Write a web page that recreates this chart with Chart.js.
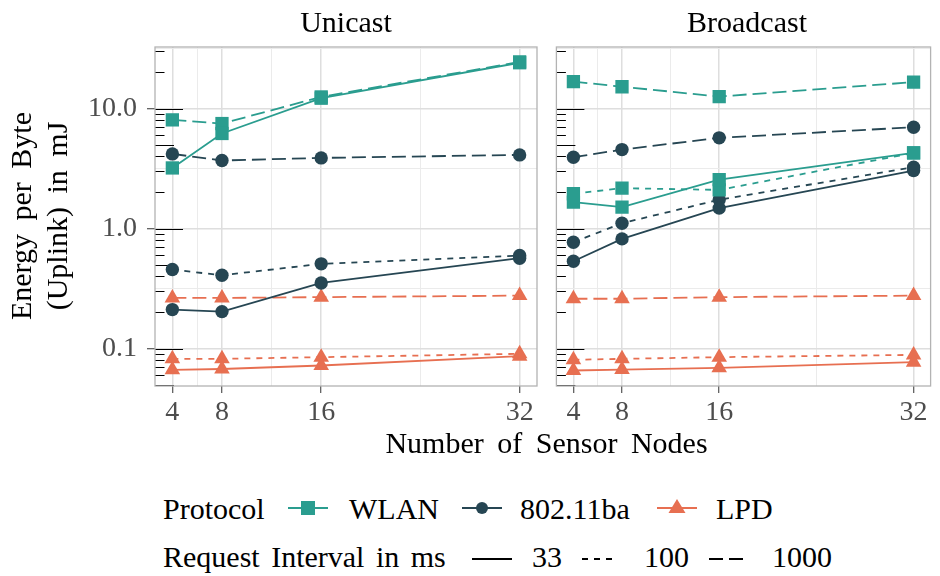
<!DOCTYPE html>
<html><head><meta charset="utf-8">
<script src="https://cdn.jsdelivr.net/npm/chart.js@4.4.1/dist/chart.umd.min.js"></script>
<style>
html,body{margin:0;padding:0;background:#fff;}
#wrap{position:relative;width:940px;height:576px;overflow:hidden;font-family:'Liberation Serif','Times New Roman',serif;color:#000;background:#fff;}
canvas{position:absolute;top:0;}
.t{position:absolute;white-space:nowrap;font-size:30px;line-height:30px;}
.ws{word-spacing:6px;}
.key{position:absolute;overflow:visible;}
</style></head><body>
<div id="wrap">
<canvas id="c1" width="547" height="440" style="left:0;width:547px;height:440px"></canvas>
<canvas id="c2" width="393" height="440" style="left:547px;width:393px;height:440px"></canvas>
<div class="t" style="left:155px;width:382px;text-align:center;top:7px">Unicast</div>
<div class="t" style="left:556px;width:382px;text-align:center;top:7px">Broadcast</div>
<div class="t ws" style="left:-161px;top:180px;width:400px;height:72px;line-height:36px;text-align:center;transform:rotate(-90deg);">Energy per Byte<br>(Uplink) in mJ</div>
<div class="t ws" style="left:155px;width:783px;text-align:center;top:428px">Number of Sensor Nodes</div>
<div id="legend"></div>
</div>
<script>
// ---------- data ----------
const nodes = [4, 8, 16, 32];
const xTickValues = [4, 8, 16, 32];
const xTickLabels = ['4', '8', '16', '32'];
const xMinorGrid = [6, 12, 24];
const yTickValues = [0.1, 1, 10];
const yTickLabels = ['0.1', '1.0', '10.0'];
const yMinorGrid = [0.0316, 0.316, 3.16, 31.6];
const panels = ['Unicast', 'Broadcast'];
const protocols = ['WLAN', '802.11ba', 'LPD'];
const intervals = ['33', '100', '1000'];

// Unicast
const uniWlan33   = [3.2, 6.2, 12.2, 24.1];
const uniWlan1000 = [8.05, 7.5, 12.5, 24.5];
const uniBa33     = [0.211, 0.203, 0.352, 0.566];
const uniBa100    = [0.455, 0.408, 0.508, 0.596];
const uniBa1000   = [4.19, 3.69, 3.88, 4.11];
const uniLpd33    = [0.0664, 0.0675, 0.0722, 0.0863];
const uniLpd100   = [0.082, 0.082, 0.0847, 0.0903];
const uniLpd1000  = [0.264, 0.264, 0.268, 0.276];
// Broadcast
const bcWlan33    = [1.66, 1.51, 2.56, 4.27];
const bcWlan100   = [1.95, 2.17, 2.1, 4.27];
const bcWlan1000  = [16.8, 15.2, 12.6, 16.6];
const bcBa33      = [0.534, 0.82, 1.48, 3.04];
const bcBa100     = [0.769, 1.107, 1.74, 3.24];
const bcBa1000    = [3.93, 4.55, 5.7, 6.99];
const bcLpd33     = [0.0656, 0.0667, 0.069, 0.0769];
const bcLpd100    = [0.0805, 0.082, 0.0847, 0.0885];
const bcLpd1000   = [0.26, 0.26, 0.268, 0.276];

const unicastSeries = [
  ['WLAN', '33', uniWlan33], ['WLAN', '1000', uniWlan1000],
  ['802.11ba', '33', uniBa33], ['802.11ba', '100', uniBa100], ['802.11ba', '1000', uniBa1000],
  ['LPD', '33', uniLpd33], ['LPD', '100', uniLpd100], ['LPD', '1000', uniLpd1000]
];
const broadcastSeries = [
  ['WLAN', '33', bcWlan33], ['WLAN', '100', bcWlan100], ['WLAN', '1000', bcWlan1000],
  ['802.11ba', '33', bcBa33], ['802.11ba', '100', bcBa100], ['802.11ba', '1000', bcBa1000],
  ['LPD', '33', bcLpd33], ['LPD', '100', bcLpd100], ['LPD', '1000', bcLpd1000]
];

// ---------- styles ----------
const protoColor = {'WLAN': '#2a9d8f', '802.11ba': '#264653', 'LPD': '#e76f51'};
const protoShape = {'WLAN': 'rect', '802.11ba': 'circle', 'LPD': 'triangle'};
const protoRadius = {'WLAN': 9.4, '802.11ba': 6.7, 'LPD': 9};
const intervalDash = {'33': [], '100': [6, 6], '1000': [14, 6]};
const FONT = "'Liberation Serif','Times New Roman',serif";

function makeDatasets(series) {
  return series.map(([p, iv, vals]) => ({
    label: p + ' ' + iv,
    data: nodes.map((n, i) => ({x: n, y: vals[i]})),
    borderColor: protoColor[p],
    backgroundColor: protoColor[p],
    borderWidth: 1.8,
    borderDash: intervalDash[iv],
    pointStyle: protoShape[p],
    pointRadius: protoRadius[p],
    pointBorderWidth: 0,
    pointBackgroundColor: protoColor[p],
    tension: 0,
    fill: false
  }));
}

const isMajorX = v => xTickValues.includes(v);
const isMajorY = v => yTickValues.some(t => Math.abs(t - v) / t < 1e-6);

const frameLog = {
  id: 'frameLog',
  beforeDatasetsDraw(chart) {
    const {ctx, chartArea: a, scales: {y}} = chart;
    ctx.save();
    ctx.strokeStyle = '#000';
    ctx.lineWidth = 1;
    const lo = Math.floor(Math.log10(y.min)), hi = Math.ceil(Math.log10(y.max));
    for (let e = lo; e <= hi; e++) {
      for (let m = 1; m <= 9; m++) {
        const v = m * Math.pow(10, e);
        if (v < y.min || v > y.max) continue;
        const len = m === 1 ? 28 : (m === 5 ? 19 : 9.5);
        const py = Math.round(y.getPixelForValue(v)) + 0.5;
        ctx.beginPath(); ctx.moveTo(a.left, py); ctx.lineTo(a.left + len, py); ctx.stroke();
      }
    }
    ctx.restore();
  },
  afterDraw(chart) {
    const {ctx, chartArea: a} = chart;
    ctx.save();
    ctx.strokeStyle = '#b3b3b3';
    ctx.lineWidth = 1.3;
    ctx.strokeRect(a.left, a.top, a.right - a.left, a.bottom - a.top);
    ctx.restore();
  }
};

function makeChart(id, series, showY, padding) {
  return new Chart(document.getElementById(id), {
    type: 'line',
    data: {datasets: makeDatasets(series)},
    plugins: [frameLog],
    options: {
      responsive: false, animation: false, devicePixelRatio: 1, events: [],
      layout: {padding},
      plugins: {legend: {display: false}, tooltip: {enabled: false}, title: {display: false}},
      scales: {
        x: {
          type: 'linear', min: 2.6, max: 33.4, bounds: 'data',
          afterBuildTicks: s => { s.ticks = [...xTickValues, ...xMinorGrid].sort((a, b) => a - b).map(v => ({value: v})); },
          afterFit: s => { s.height = 44; s.paddingLeft = 0; s.paddingRight = 0; },
          ticks: {
            autoSkip: false, maxRotation: 0, padding: 3, color: '#4d4d4d',
            font: {family: FONT, size: 28},
            callback: v => { const i = xTickValues.indexOf(v); return i >= 0 ? xTickLabels[i] : ''; }
          },
          grid: {
            color: c => isMajorX(c.tick.value) ? '#dedede' : '#ebebeb',
            lineWidth: c => isMajorX(c.tick.value) ? 1.5 : 1,
            tickColor: c => isMajorX(c.tick.value) ? '#333333' : 'rgba(0,0,0,0)',
            tickLength: 7, tickWidth: 1, drawTicks: true
          },
          border: {display: false}
        },
        y: {
          type: 'logarithmic', min: 0.0487, max: 32.6, bounds: 'data',
          afterBuildTicks: s => { s.ticks = [...yTickValues, ...yMinorGrid].filter(v => v >= s.min && v <= s.max).sort((a, b) => a - b).map(v => ({value: v})); },
          afterFit: s => { s.width = showY ? 155 : 0; s.paddingTop = 0; s.paddingBottom = 0; },
          ticks: {
            display: showY, autoSkip: false, padding: 10, color: '#4d4d4d',
            font: {family: FONT, size: 28},
            callback: v => { const i = yTickValues.findIndex(t => Math.abs(t - v) / t < 1e-6); return i >= 0 ? yTickLabels[i] : ''; }
          },
          grid: {
            color: c => isMajorY(c.tick.value) ? '#dedede' : '#ebebeb',
            lineWidth: c => isMajorY(c.tick.value) ? 1.5 : 1,
            tickColor: c => isMajorY(c.tick.value) ? '#333333' : 'rgba(0,0,0,0)',
            tickLength: showY ? 8 : 0, tickWidth: 1, drawTicks: showY
          },
          border: {display: false}
        }
      }
    }
  });
}

makeChart('c1', unicastSeries, true, {left: 0, right: 10, top: 47, bottom: 10});
makeChart('c2', broadcastSeries, false, {left: 9, right: 2, top: 47, bottom: 10});

// ---------- legend (HTML text + small SVG keys) ----------
const legend = document.getElementById('legend');
function addText(txt, left, top, ws) {
  const d = document.createElement('div');
  d.className = 't';
  d.style.left = left + 'px'; d.style.top = top + 'px';
  if (ws) d.style.wordSpacing = ws + 'px';
  d.textContent = txt;
  legend.appendChild(d);
}
const SVGNS = 'http://www.w3.org/2000/svg';
function addKey(left, cy, w, color, dash, shape) {
  const s = document.createElementNS(SVGNS, 'svg');
  s.setAttribute('class', 'key');
  s.setAttribute('width', w); s.setAttribute('height', 24);
  s.style.left = left + 'px'; s.style.top = (cy - 12) + 'px';
  const l = document.createElementNS(SVGNS, 'line');
  l.setAttribute('x1', 0); l.setAttribute('x2', w); l.setAttribute('y1', 12); l.setAttribute('y2', 12);
  l.setAttribute('stroke', color); l.setAttribute('stroke-width', 1.8);
  if (dash.length) l.setAttribute('stroke-dasharray', dash.join(' '));
  s.appendChild(l);
  const m = w / 2;
  if (shape === 'rect') {
    const r = document.createElementNS(SVGNS, 'rect');
    r.setAttribute('x', m - 7); r.setAttribute('y', 5); r.setAttribute('width', 14); r.setAttribute('height', 14);
    r.setAttribute('fill', color); s.appendChild(r);
  } else if (shape === 'circle') {
    const c = document.createElementNS(SVGNS, 'circle');
    c.setAttribute('cx', m); c.setAttribute('cy', 12); c.setAttribute('r', 6);
    c.setAttribute('fill', color); s.appendChild(c);
  } else if (shape === 'triangle') {
    const p = document.createElementNS(SVGNS, 'polygon');
    p.setAttribute('points', `${m},${12 - 9} ${m + 8.5},${12 + 5} ${m - 8.5},${12 + 5}`);
    p.setAttribute('fill', color); s.appendChild(p);
  }
  legend.appendChild(s);
}
// row 1: Protocol
addText('Protocol', 163, 494);
const row1Keys = [288, 462, 657];
const row1Texts = [349, 520, 716];
protocols.forEach((p, i) => {
  addKey(row1Keys[i], 508, 40, protoColor[p], [], protoShape[p]);
  addText(p, row1Texts[i], 494);
});
// row 2: Request Interval
addText('Request Interval in ms', 163, 542, 4);
const row2Keys = [472, 582, 709];
const row2Texts = [532, 644, 772];
intervals.forEach((iv, i) => {
  addKey(row2Keys[i], 559, iv === '33' ? 40 : 35, '#000', intervalDash[iv], null);
  addText(iv, row2Texts[i], 542);
});
</script>
</body></html>
